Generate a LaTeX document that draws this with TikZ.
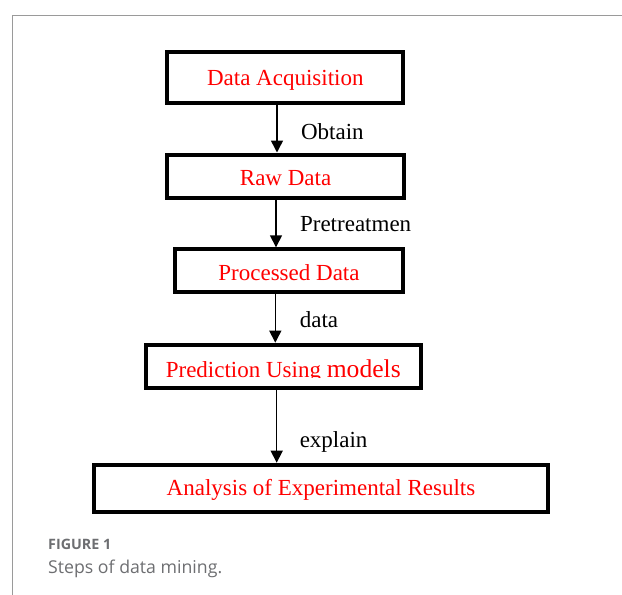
\documentclass[tikz,border=0pt]{standalone}
\usepackage{fontspec}
\setmainfont{Liberation Serif}
\newfontfamily\capfont{Open Sans}
\usetikzlibrary{arrows.meta}
\definecolor{capgray}{HTML}{6D6E71}
\definecolor{framegray}{HTML}{9A9A9A}

\begin{document}
\begin{tikzpicture}[x=1pt, y=-1pt,
		stepbox/.style={draw, line width=4pt, rectangle, inner sep=0pt, text=red, font=\fontsize{23}{27}\selectfont, text depth=0pt},
		flow/.style={-{Triangle[width=12pt, length=12pt]}, line width=1.5pt},
		arrowlbl/.style={anchor=base west, xshift=20pt, font=\fontsize{23}{27}\selectfont}]
		\useasboundingbox (0, 0) rectangle (622, 595);

		% frame
		\draw [framegray, line width=1pt] (622, 15) -- (12.3, 15) -- (12.3, 595);

		% steps
		\node[stepbox, minimum width=236pt, minimum height=51pt, text height=15pt] (acq) at (285.3, 77.5) {Data Acquisition};
		\node[stepbox, minimum width=237pt, minimum height=43pt, text height=19.5pt] (raw) at (285.6, 176) {Raw Data};
		\node[stepbox, minimum width=228.6pt, minimum height=43pt, text height=19.8pt] (proc) at (289, 270.8) {Processed Data};
		\node[stepbox, minimum width=274.7pt, minimum height=43.3pt, text height=21.4pt] (pred) at (283.3, 366.3) {Prediction Using {\fontsize{25.6}{30}\selectfont models}};
		\fill[white] (148, 377.8) rectangle (418.7, 386.2); % cut-off descenders
		\node[stepbox, minimum width=454pt, minimum height=47.6pt, text height=13pt] (ana) at (321, 488.5) {Analysis of Experimental Results};

		% arrows
		\coordinate (c1) at (277, 0);
		\coordinate (c2) at (276, 0);
		\coordinate (c3) at (275.3, 0);
		\coordinate (c4) at (276.7, 0);
		\draw [flow] (acq.south -| c1) -- node[arrowlbl, pos=0.72] (obtain) {Obtain} (raw.north -| c1);
		\draw [flow] (raw.south -| c2) -- node[arrowlbl, pos=0.665] (pretreat) {Pretreatmen} (proc.north -| c2);
		\draw [flow] (proc.south -| c3) -- node[arrowlbl, pos=0.68, xshift=0.5pt] (datalbl) {data} (pred.north -| c3);
		\draw [flow] (pred.south -| c4) -- node[arrowlbl, pos=0.79, xshift=-1pt] (explain) {explain} (ana.north -| c4);

		% caption
		\node[anchor=base west, inner sep=0pt, text=capgray, font=\capfont\bfseries\fontsize{14.3}{17}\selectfont] (figno) at (48, 549) {FIGURE 1};
		\node[anchor=base west, inner sep=0pt, text=capgray, font=\capfont\fontsize{17.7}{21}\selectfont] (figcap) at (48, 573.3) {Steps of data mining.};
	\end{tikzpicture}
\end{document}
